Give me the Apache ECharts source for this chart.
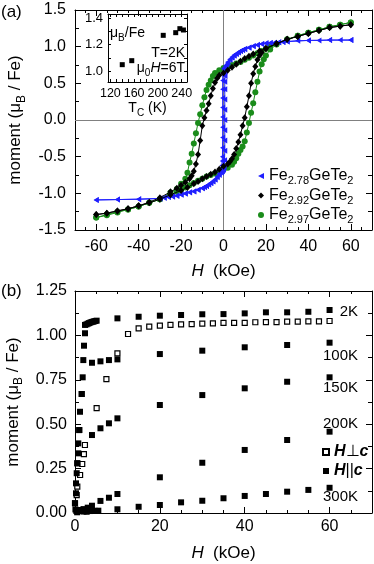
<!DOCTYPE html>
<html><head><meta charset="utf-8">
<script src="https://cdn.jsdelivr.net/npm/echarts@6/dist/echarts.min.js"></script>
<style>html,body{margin:0;padding:0;background:#fff}#c{width:374px;height:564px}</style>
</head><body><div id="c"></div>
<script>
const FONT = "'Liberation Sans', Arial, Helvetica, sans-serif";

// ---------- (a) hysteresis loops: [H (kOe), moment (muB/Fe)] ----------
const fe278Down = [[60,1.09],[55,1.09],[50,1.09],[45,1.085],[40,1.085],[35,1.08],[30,1.07],[28,1.065],[26,1.06],[24,1.055],[22,1.05],[20,1.045],[18,1.035],[16,1.025],[14,1.01],[12,0.99],[10,0.97],[9,0.955],[8,0.94],[7,0.92],[6,0.90],[5,0.875],[4,0.85],[3,0.82],[2,0.78],[1,0.74],[0.5,0.72],[0,0.70],[-0.3,0.64],[-0.4,0.54],[-0.4,0.42],[-0.4,0.30],[-0.4,0.17],[-0.4,0.04],[-0.4,-0.10],[-0.4,-0.24],[-0.45,-0.38],[-0.5,-0.50],[-0.6,-0.56],[-0.8,-0.62],[-1,-0.66],[-1.5,-0.70],[-2,-0.73],[-3,-0.77],[-4,-0.81],[-5,-0.84],[-6,-0.86],[-7,-0.88],[-8,-0.90],[-9,-0.915],[-10,-0.93],[-12,-0.95],[-14,-0.97],[-16,-0.985],[-18,-1.0],[-20,-1.015],[-22,-1.03],[-24,-1.04],[-26,-1.05],[-28,-1.06],[-30,-1.07],[-40,-1.08],[-50,-1.085],[-60,-1.09]];
const fe278Up = [[-60,-1.09],[-50,-1.085],[-40,-1.08],[-30,-1.07],[-28,-1.06],[-26,-1.05],[-24,-1.045],[-22,-1.035],[-20,-1.02],[-18,-1.005],[-16,-0.99],[-14,-0.975],[-12,-0.955],[-10,-0.93],[-9,-0.915],[-8,-0.90],[-7,-0.88],[-6,-0.86],[-5,-0.835],[-4,-0.81],[-3,-0.78],[-2,-0.75],[-1,-0.72],[-0.5,-0.70],[0,-0.68],[0.3,-0.64],[0.5,-0.55],[0.6,-0.42],[0.6,-0.28],[0.6,-0.14],[0.6,0.0],[0.6,0.14],[0.6,0.28],[0.6,0.42],[0.6,0.52],[0.7,0.60],[0.8,0.66],[1,0.72],[1.5,0.76],[2,0.79],[3,0.83],[4,0.86],[5,0.885],[6,0.905],[7,0.925],[8,0.94],[9,0.955],[10,0.965],[12,0.985],[14,1.005],[16,1.02],[18,1.035],[20,1.045],[22,1.05],[24,1.055],[26,1.06],[28,1.065],[30,1.07],[40,1.085],[50,1.09],[60,1.09]];
const fe292Down = [[60,1.30],[55,1.28],[50,1.26],[45,1.22],[40,1.18],[35,1.14],[30,1.10],[25,1.04],[20,0.98],[17,0.94],[14,0.90],[12,0.87],[10,0.84],[8,0.80],[6,0.76],[4,0.72],[2,0.68],[0,0.64],[-2,0.61],[-3,0.57],[-4,0.51],[-5,0.43],[-6,0.33],[-7,0.22],[-8,0.13],[-9,0.03],[-10,-0.08],[-11,-0.28],[-12,-0.47],[-13,-0.60],[-14,-0.70],[-15,-0.76],[-16,-0.80],[-18,-0.85],[-20,-0.89],[-22,-0.93],[-25,-0.98],[-30,-1.06],[-35,-1.12],[-40,-1.17],[-45,-1.21],[-50,-1.24],[-55,-1.27],[-60,-1.29]];
const fe292Up = [[-60,-1.29],[-55,-1.27],[-50,-1.24],[-45,-1.21],[-40,-1.17],[-35,-1.13],[-30,-1.08],[-25,-1.02],[-20,-0.96],[-17,-0.92],[-14,-0.87],[-12,-0.84],[-10,-0.80],[-8,-0.77],[-6,-0.74],[-4,-0.71],[-2,-0.67],[0,-0.63],[2,-0.60],[3,-0.57],[4,-0.53],[5,-0.47],[6,-0.39],[7,-0.30],[8,-0.20],[9,-0.08],[10,0.03],[11,0.18],[12,0.33],[13,0.50],[14,0.63],[15,0.73],[16,0.82],[17,0.88],[18,0.92],[20,0.97],[25,1.04],[30,1.10],[35,1.14],[40,1.18],[45,1.22],[50,1.26],[55,1.28],[60,1.30]];
const fe297Down = [[60,1.33],[55,1.30],[50,1.27],[45,1.23],[40,1.19],[35,1.15],[30,1.10],[25,1.04],[22,1.00],[20,0.97],[18,0.94],[16,0.91],[14,0.88],[12,0.85],[10,0.82],[8,0.79],[6,0.77],[4,0.75],[2,0.73],[0,0.71],[-2,0.68],[-4,0.64],[-5,0.60],[-6,0.54],[-7,0.48],[-8,0.41],[-9,0.31],[-10,0.20],[-11,0.08],[-12,-0.04],[-13,-0.18],[-14,-0.32],[-15,-0.46],[-16,-0.58],[-17,-0.72],[-18,-0.80],[-20,-0.87],[-22,-0.94],[-25,-0.99],[-30,-1.08],[-35,-1.13],[-40,-1.18],[-45,-1.22],[-50,-1.25],[-55,-1.29],[-60,-1.33]];
const fe297Up = [[-60,-1.33],[-55,-1.30],[-50,-1.26],[-45,-1.22],[-40,-1.18],[-35,-1.13],[-30,-1.08],[-25,-1.02],[-22,-0.98],[-20,-0.95],[-18,-0.92],[-16,-0.89],[-14,-0.86],[-12,-0.83],[-10,-0.80],[-8,-0.77],[-6,-0.75],[-4,-0.73],[-2,-0.71],[0,-0.68],[2,-0.65],[4,-0.61],[5,-0.57],[6,-0.52],[7,-0.46],[8,-0.41],[9,-0.36],[10,-0.29],[11,-0.17],[12,-0.04],[13,0.10],[14,0.23],[15,0.38],[16,0.52],[17,0.66],[18,0.76],[19,0.83],[20,0.88],[22,0.96],[25,1.03],[30,1.09],[35,1.15],[40,1.19],[45,1.23],[50,1.27],[55,1.30],[60,1.33]];
const loopNames = ['Fe2.78GeTe2','Fe2.92GeTe2','Fe2.97GeTe2'];

// inset: Tc (K) vs moment at 2 K, 6 T
const insetTc = [140,156,209,230,237,243];
const insetMoment = [1.05,1.08,1.27,1.29,1.32,1.31];

// ---------- (b) M(H) for H||c at several T, and H perp c at 2 K ----------
const perp2K = [[0,0.055],[0.4,0.101],[0.54,0.148],[1.2,0.214],[1.7,0.276],[2.1,0.332],[2.34,0.383],[5.1,0.590],[7.4,0.754],[10,0.899],[12.5,1.008],[15,1.040],[17.5,1.049],[20,1.055],[22.5,1.059],[25,1.062],[27.5,1.064],[30,1.066],[32.5,1.068],[35,1.070],[37.5,1.071],[40,1.071],[42.5,1.074],[45,1.075],[47.5,1.075],[50,1.077],[52.5,1.077],[55,1.079],[57.5,1.079],[60,1.081]];
const par2K = [[0.24,0.167],[0.54,0.28],[1.01,0.467],[1.58,0.67],[1.81,0.764],[2.12,0.942],[2.36,1.012],[2.36,1.059],[2.7,1.062],[3.0,1.066],[3.3,1.069],[3.6,1.072],[3.9,1.075],[4.2,1.077],[4.5,1.079],[4.8,1.081],[5.1,1.083],[10,1.096],[15,1.105],[20,1.111],[25,1.115],[30,1.119],[35,1.120],[40,1.124],[45,1.130],[50,1.130],[55,1.133],[60,1.143]];
const par100K = [[0.1,0.02],[0.4,0.224],[0.78,0.336],[1.18,0.57],[1.58,0.67],[1.96,0.861],[4,0.846],[6,0.854],[8,0.861],[10,0.865],[20,0.895],[30,0.914],[40,0.933],[50,0.946],[60,0.959]];
const par150K = [[0,0.055],[0.24,0.111],[0.54,0.28],[0.78,0.392],[1.0,0.467],[4,0.439],[6,0.477],[8,0.505],[10,0.533],[20,0.608],[30,0.664],[40,0.702],[50,0.739],[60,0.764]];
const par200K = [[0.3,0.012],[1,0.017],[2,0.022],[3,0.03],[4,0.041],[6,0.068],[8,0.086],[10,0.107],[20,0.201],[30,0.283],[40,0.355],[50,0.411],[60,0.458]];
const par300K = [[0.5,0.004],[2,0.008],[2.75,0.007],[3.5,0.011],[4.7,0.012],[5.5,0.013],[10,0.021],[15,0.035],[20,0.045],[25,0.060],[30,0.069],[35,0.083],[40,0.096],[45,0.107],[50,0.120],[55,0.130],[60,0.142]];
const tempLabels = ['2K','100K','150K','200K','300K'];

// ticks
const xTicksA = [-60,-40,-20,0,20,40,60];
const xTicksB = [0,20,40,60];
const insetXLabels = [120,160,200,240];
const insetXTicks = [120,130,140,150,160,170,180,190,200,210,220,230,240];
const insetYLabels = [1.0,1.2,1.4];
const insetYTicks = [1.0,1.1,1.2,1.3,1.4];

const BLUE = '#1f1fff', BLACK = '#000000', GREEN = '#1a8c1a';
const TRI_LEFT = 'path://M0,5L10,0L10,10Z';

const rich = {
  n: {fontFamily: FONT, fontSize: 16, color: '#000', lineHeight: 18},
  s: {fontFamily: FONT, fontSize: 11, color: '#000', lineHeight: 8, height: 8, verticalAlign: 'bottom'},
  i: {fontFamily: FONT, fontSize: 17, color: '#000', fontStyle: 'italic', lineHeight: 20},
  m: {fontFamily: FONT, fontSize: 17, color: '#000', lineHeight: 20},
  ms: {fontFamily: FONT, fontSize: 12, color: '#000', lineHeight: 8, height: 8, verticalAlign: 'bottom'},
  b: {fontFamily: FONT, fontSize: 16, color: '#000', fontWeight: 'bold', fontStyle: 'italic', lineHeight: 18},
  t: {fontFamily: FONT, fontSize: 14, color: '#000', lineHeight: 16},
  ts: {fontFamily: FONT, fontSize: 10, color: '#000', lineHeight: 6, height: 6, verticalAlign: 'bottom'},
  ti: {fontFamily: FONT, fontSize: 14, color: '#000', fontStyle: 'italic', lineHeight: 16}
};

const line = {show: true, onZero: false, lineStyle: {color: '#000', width: 1}};
const tickStyle = {color: '#000', width: 1};
const lbl = (o) => Object.assign({fontFamily: FONT, fontSize: 16, color: '#000'}, o);

function axis(grid, pos, extra) {
  return Object.assign({
    type: 'value', gridIndex: grid, position: pos,
    splitLine: {show: false}, axisLine: line,
    axisTick: {show: true, inside: true, length: 6, lineStyle: tickStyle},
    axisLabel: {show: false}
  }, extra);
}
function minorAxis(grid, pos, min, max) {
  return {type: 'value', gridIndex: grid, position: pos, min: min, max: max, interval: 5,
    splitLine: {show: false}, axisLine: {show: false, onZero: false},
    axisTick: {show: true, inside: true, length: 3, lineStyle: tickStyle},
    axisLabel: {show: false}};
}

const xAxes = [
  axis(0, 'bottom', {min: -70, max: 70,
    axisTick: {show: true, inside: true, length: 6, lineStyle: tickStyle, customValues: xTicksA},
    axisLabel: lbl({show: true, margin: 9, customValues: xTicksA}),
    name: '{i|H}{m|  (kOe)}', nameLocation: 'middle', nameGap: 31, nameTextStyle: {rich: rich}}),
  axis(0, 'top', {min: -70, max: 70,
    axisTick: {show: true, inside: true, length: 6, lineStyle: tickStyle, customValues: xTicksA}}),
  axis(1, 'bottom', {min: 0, max: 70,
    axisTick: {show: true, inside: true, length: 6, lineStyle: tickStyle, customValues: xTicksB},
    axisLabel: lbl({show: true, margin: 6, customValues: xTicksB}),
    name: '{i|H}{m|  (kOe)}', nameLocation: 'middle', nameGap: 30, nameTextStyle: {rich: rich}}),
  axis(1, 'top', {min: 0, max: 70,
    axisTick: {show: true, inside: true, length: 6, lineStyle: tickStyle, customValues: xTicksB}}),
  axis(2, 'bottom', {min: 116, max: 249,
    axisTick: {show: true, inside: true, length: 3, lineStyle: tickStyle, customValues: insetXTicks},
    axisLabel: lbl({show: true, fontSize: 12.5, margin: 5, customValues: insetXLabels}),
    name: '{t|T}{ts|C}{t| (K)}', nameLocation: 'middle', nameGap: 18, nameTextStyle: {rich: rich}}),
  axis(2, 'top', {min: 116, max: 249,
    axisTick: {show: true, inside: true, length: 3, lineStyle: tickStyle, customValues: insetXTicks}}),
  minorAxis(3, 'bottom', -70, 70),
  minorAxis(3, 'top', -70, 70),
  minorAxis(4, 'bottom', 0, 70),
  minorAxis(4, 'top', 0, 70)
];

const yAxes = [
  axis(0, 'left', {min: -1.5, max: 1.5, interval: 0.5,
    minorTick: {show: true, splitNumber: 2, length: 4, lineStyle: tickStyle},
    axisLabel: lbl({show: true, margin: 9, formatter: v => v.toFixed(1)}),
    name: '{m|moment (μ}{ms|B}{m| / Fe)}', nameLocation: 'middle', nameRotate: 90, nameGap: 49,
    nameTextStyle: {rich: rich}}),
  axis(0, 'right', {min: -1.5, max: 1.5, interval: 0.5,
    minorTick: {show: true, splitNumber: 2, length: 4, lineStyle: tickStyle}}),
  axis(1, 'left', {min: 0, max: 1.25, interval: 0.25,
    minorTick: {show: true, splitNumber: 2, length: 4, lineStyle: tickStyle},
    axisLabel: lbl({show: true, margin: 8, formatter: v => v.toFixed(2)}),
    name: '{m|moment (μ}{ms|B}{m| / Fe)}', nameLocation: 'middle', nameRotate: 90, nameGap: 49,
    nameTextStyle: {rich: rich}}),
  axis(1, 'right', {min: 0, max: 1.25, interval: 0.25,
    minorTick: {show: true, splitNumber: 2, length: 4, lineStyle: tickStyle}}),
  axis(2, 'left', {min: 0.92, max: 1.43,
    axisTick: {show: true, inside: true, length: 3, lineStyle: tickStyle, customValues: insetYTicks},
    axisLabel: lbl({show: true, fontSize: 13, margin: 5, customValues: insetYLabels, formatter: v => v.toFixed(1)})}),
  axis(2, 'right', {min: 0.92, max: 1.43,
    axisTick: {show: true, inside: true, length: 3, lineStyle: tickStyle, customValues: insetYTicks}}),
  {type: 'value', gridIndex: 3, show: false, min: -1.5, max: 1.5},
  {type: 'value', gridIndex: 4, show: false, min: 0, max: 1.25}
];

function loop(name, down, up, color, symbol, size, z) {
  return {
    type: 'line', name: name, xAxisIndex: 0, yAxisIndex: 0, z: z,
    data: down.concat(up), symbol: symbol, symbolSize: size, showSymbol: true,
    lineStyle: {color: color, width: 1}, itemStyle: {color: color, borderWidth: 0, opacity: 1},
    emphasis: {disabled: true}, silent: true
  };
}
function sq(name, data, open) {
  return {
    type: 'scatter', name: name, xAxisIndex: 2, yAxisIndex: 2, data: data,
    symbol: 'rect', symbolSize: open ? 5 : 6, silent: true,
    itemStyle: open ? {color: '#fff', borderColor: '#000', borderWidth: 1.2, opacity: 1}
                    : {color: '#000', borderWidth: 0, opacity: 1}
  };
}

const legendRich = {
  'Fe2.78GeTe2': '{n|Fe}{s|2.78}{n|GeTe}{s|2}',
  'Fe2.92GeTe2': '{n|Fe}{s|2.92}{n|GeTe}{s|2}',
  'Fe2.97GeTe2': '{n|Fe}{s|2.97}{n|GeTe}{s|2}',
  'Hperp': '{b|H}{n|⊥}{b|c}',
  'Hpar': '{b|H}{n|||}{b|c}'
};

const zeroSeries = {
  type: 'line', name: 'zero', xAxisIndex: 0, yAxisIndex: 0, data: [], z: 1, silent: true,
  markLine: {silent: true, symbol: 'none', z: 1, animation: false, label: {show: false},
    lineStyle: {color: '#808080', width: 1, type: 'solid'},
    emphasis: {disabled: true},
    data: [{xAxis: 0}, {yAxis: 0}]}
};

const series = [
  zeroSeries,
  loop(loopNames[2], fe297Down, fe297Up, GREEN, 'circle', 6, 2),
  loop(loopNames[0], fe278Down, fe278Up, BLUE, TRI_LEFT, [5, 6], 3),
  loop(loopNames[1], fe292Down, fe292Up, BLACK, 'diamond', [6, 7], 4),
  {type: 'scatter', name: 'inset', xAxisIndex: 4, yAxisIndex: 4, silent: true,
    data: insetTc.map((t, k) => [t, insetMoment[k]]), symbol: 'rect', symbolSize: 5,
    itemStyle: {color: '#000', opacity: 1}},
  sq('Hperp', perp2K, true),
  sq('Hpar', par2K, false),
  sq('Hpar', par100K, false),
  sq('Hpar', par150K, false),
  sq('Hpar', par200K, false),
  sq('Hpar', par300K, false)
];

const txt = (x, y, text, o) => ({type: 'text', x: x, y: y, silent: true,
  style: Object.assign({text: text, fontFamily: FONT, fontSize: 14, fill: '#000', rich: rich}, o)});

const graphic = [
  txt(1, 4, '(a)', {fontSize: 17}),
  txt(1, 283, '(b)', {fontSize: 17}),
  txt(358, 312, tempLabels[0], {align: 'right', verticalAlign: 'middle', fontSize: 15}),
  txt(358, 356, tempLabels[1], {align: 'right', verticalAlign: 'middle', fontSize: 15}),
  txt(358, 388, tempLabels[2], {align: 'right', verticalAlign: 'middle', fontSize: 15}),
  txt(358, 424, tempLabels[3], {align: 'right', verticalAlign: 'middle', fontSize: 15}),
  txt(358, 497, tempLabels[4], {align: 'right', verticalAlign: 'middle', fontSize: 15}),
  txt(110, 33, '{t|μ}{ts|B}{t|/Fe}', {verticalAlign: 'middle'}),
  txt(185, 53, '{t|T=2K}', {align: 'right', verticalAlign: 'middle'}),
  txt(185, 68, '{t|μ}{ts|0}{ti|H}{t|=6T}', {align: 'right', verticalAlign: 'middle'})
];

const option = {
  animation: false,
  backgroundColor: '#fff',
  grid: [
    {left: 75, top: 10, width: 297, height: 220, outerBoundsMode: 'none', containLabel: false},
    {left: 75, top: 291, width: 297, height: 222, outerBoundsMode: 'none', containLabel: false},
    {left: 108, top: 14, width: 79, height: 68, outerBoundsMode: 'none', containLabel: false, show: true, backgroundColor: '#fff', borderWidth: 0},
    {left: 75, top: 10, width: 297, height: 220, outerBoundsMode: 'none', containLabel: false},
    {left: 75, top: 291, width: 297, height: 222, outerBoundsMode: 'none', containLabel: false}
  ],
  xAxis: xAxes,
  yAxis: yAxes,
  legend: [
    {data: [
        {name: loopNames[0], icon: TRI_LEFT},
        {name: loopNames[1], icon: 'diamond'},
        {name: loopNames[2], icon: 'circle'}],
      orient: 'vertical', left: 253, top: 163, itemWidth: 6, itemHeight: 6, itemGap: 1,
      selectedMode: false, formatter: n => legendRich[n],
      textStyle: {rich: rich, fontFamily: FONT, fontSize: 16, color: '#000'}},
    {data: [{name: 'Hperp', icon: 'rect'}, {name: 'Hpar', icon: 'rect'}],
      orient: 'vertical', left: 317, top: 439, itemWidth: 6, itemHeight: 6, itemGap: 3,
      selectedMode: false, formatter: n => legendRich[n],
      textStyle: {rich: rich, fontFamily: FONT, fontSize: 16, color: '#000'}}
  ],
  graphic: graphic,
  series: series
};

const chart = echarts.init(document.getElementById('c'), null, {renderer: 'canvas'});
chart.setOption(option);
</script></body></html>
